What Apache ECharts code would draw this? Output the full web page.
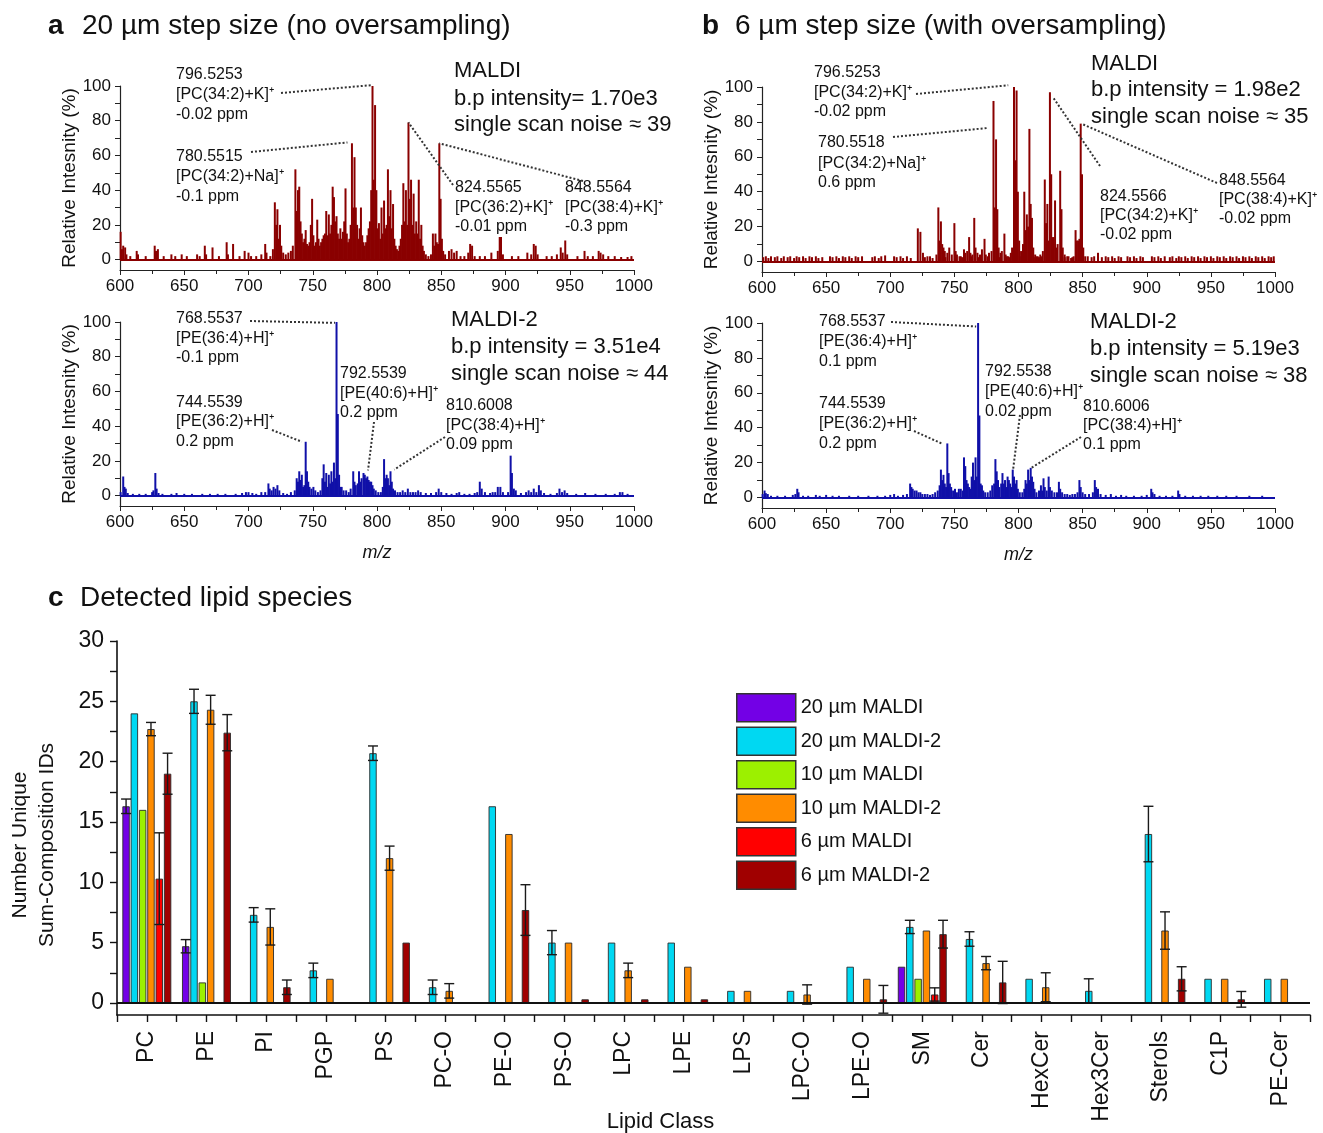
<!DOCTYPE html>
<html>
<head>
<meta charset="utf-8">
<title>MALDI vs MALDI-2 lipid coverage</title>
<script src="https://cdn.jsdelivr.net/npm/echarts@6/dist/echarts.min.js"></script>
<style>
html,body{margin:0;padding:0;background:#fff;}
#main{width:1323px;height:1133px;}
</style>
</head>
<body>
<div id="main"></div>
<script>
var FONT = "'Liberation Sans', Arial, sans-serif";

// ---- spectra: [m/z, relative intensity %] ----
var peaksA1 = [[600.5,16],[601.5,6],[602.5,8],[604,7],[605,3],[608,2],[613,5],[614,3],[620,2],[627,8],[628,5],[629.5,6],[634,2],[640,3],[643,2],[648,3],[652,2],[660,3],[662,2],[666,8],[667,3],[672,7],[677,2],[683,10],[684,3],[688,9],[693,2],[697,5],[700,4],[702,2],[706,2],[710,3],[713,9],[714,4],[717,2],
  [719,6],[720.5,33],[721.5,20],[722.5,29],[723.5,12],[724.5,20],[725.5,8],[727,4],[729,3],[731,4],[733,5],[734.5,8],[736.5,52],[737.5,28],[738.5,40],[739.5,42],[740.5,22],[741.5,15],[742.5,10],[743.5,12],[744.5,17],[745.5,9],[746.5,8],[747.5,10],[748.5,20],[749.5,35],[750.5,14],[751.5,8],[752.5,10],[753.5,23],[754.5,12],[755.5,8],[756.5,10],[757.5,12],[758.5,14],[759.5,15],[760.5,28],[761.5,14],[762.5,26],[763.5,15],[764.5,20],[765.5,42],[766.5,36],[767.5,22],[768.5,25],[769.5,15],[770.5,12],[771.5,18],[772.5,12],[773.5,16],[774.5,22],[775.5,41],[776.5,15],[777.5,10],[778.5,12],[779.5,20],[780.5,67],[781.5,30],[782.5,59],[783.5,30],[784.5,20],[785.5,12],[786.5,18],[787.5,30],[788.5,14],[789.5,10],[790.5,8],[791.5,10],[792.5,14],[793.5,18],[794.5,22],[795.5,40],[796.5,100],[797.5,46],[798.5,89],[799.5,40],[800.5,18],[801.5,21],[802.5,12],[803.5,30],[804.5,15],[805.5,34],[806.5,18],[807.5,20],[808.5,52],[809.5,25],[810.5,40],[811.5,18],[812.5,32],[813.5,12],[814.5,8],[815.5,6],[816.5,5],[817.5,8],[818.5,12],[819.5,20],[820.5,44],[821.5,22],[822.5,40],[823.5,20],[824.5,79],[825.5,35],[826.5,46],[827.5,20],[828.5,38],[829.5,15],[830.5,22],[831.5,15],[832.5,46],[833.5,12],[834.5,20],[835.5,8],[836.5,5],[838,3],[840,2],[842,3],[843.5,15],[844.5,8],[845.5,15],[846.5,10],[847.5,9],[848.5,67],[849.5,35],[850.5,12],[851.5,5],[853,3],[856,5],[858,6],[860,4],[862,5],[865,2],[868,2],[871,4],[872.5,9],[874,8],[876,2],[880,2],[884,2],[889,4],[894,5],[895.5,13],[896.5,13],[898,3],[905,2],[910,2],[917,4],[920,3],[922,9],[923.5,8],[925,3],[932,2],[936,2],[940,3],[943,7],[944.5,4],[946.5,11],[948,3],[956,2],[961.5,5],[964,2],[968,2],[972.5,5],[974,4],[976,3],[980,2],[985,2],[990,1.5],[995,1.5],[998,2]];

var peaksA2 = [[600.5,2],[602.5,11],[603.5,5],[604.5,4],[606,1.5],[610,1],[615,1],[620,1],[625,2],[626,3],[627.5,13],[628.5,4],[630,1.5],[633,1],[640,1],[644,1.5],[650,1],[656,1],[664,1],[670,1],[676,1],[682,1],[690,1],[695,1.5],[698,2],[700,2],[703,1.5],[706,1],[710,2],[713,2],[715.5,7],[716.5,4],[718,3],[719.5,5],[721,4],[722.5,6],[724,3],[727,1.5],[730,1],[733,2],[736,3],[737.5,10],[738.5,8],[739.5,14],[740.5,9],[741.5,12],[742.5,5],[743.5,6],[744.5,31],[745.5,14],[746.5,8],[747.5,5],[749,4],[750.5,5],[752,3],[754,2],[756,3],[757.5,10],[758.5,18],[759.5,8],[760.5,13],[761.5,5],[762.5,12],[763.5,7],[764.5,14],[765.5,8],[766.5,19],[767.5,10],[768.5,100],[769.5,47],[770.5,12],[771.5,5],[772.5,5],[774,3],[776,3],[778,2],[779.5,4],[781.5,14],[782.5,8],[783.5,6],[785,7],[786,14],[787,8],[788,10],[789.5,13],[790.5,12],[791.5,10],[792.5,11],[793.5,9],[794.5,8],[795.5,8],[796.5,6],[797.5,4],[799,3],[801,2],[803,2],[804.5,5],[805.5,21],[806.5,10],[807.5,12],[808.5,10],[809.5,6],[810.5,14],[811.5,8],[812.5,4],[814,3],[816,2],[818,2],[820,3],[822,2],[824,4],[826,2],[828,2],[830,2],[832,3],[834,2],[838,1.5],[842,1.5],[846,2],[848,4],[850,2],[854,1.5],[858,1],[862,1.5],[864,2],[868,1],[872,1],[876,1.5],[878,2],[880,8],[881.5,4],[884,2],[888,1.5],[890,2],[892,2],[894,5],[896,5],[898,2],[902,2],[904,23],[905,13],[906.5,4],[908,3],[912,1.5],[916,2],[918,3],[920,2],[922,4],[924,2],[926,6],[927.5,3],[930,1.5],[935,1],[940,1.5],[942,4],[944,2],[946,3],[948,1.5],[955,1],[962,1.5],[970,1],[978,1],[985,1],[989,2],[991,2],[995,1]];

var peaksB1 = [[716,2],[721.5,19],[723.5,17],[725.5,5],[729,3],[733,2],[736,4],[737.5,31],[738.5,12],[739.5,23],[740.5,10],[741.5,8],[742.5,6],[744.5,5],[746,8],[748,4],[750,22],[751,6],[752,4],[755,3],[757.5,7],[758.5,5],[760,6],[761.5,14],[762.5,5],[764,4],[765.5,25],[766.5,8],[768,5],[770,4],[771.5,7],[773.5,13],[774.5,4],[777,5],[779,6],[780.5,92],[781.5,31],[782.5,70],[783.5,30],[784.5,8],[786,5],[787,6],[789,16],[790,4],[792,3],[794,5],[795,8],[796.5,100],[797.5,58],[798.5,98],[799.5,40],[800.5,12],[802,6],[803.5,10],[804.5,40],[805.5,18],[806.5,27],[807.5,20],[808.5,76],[809.5,33],[810.5,25],[811.5,8],[813,4],[815,3],[817,4],[819,6],[820.5,47],[821.5,22],[822.5,33],[823.5,12],[824.5,97],[825.5,50],[826.5,14],[827.5,14],[828.5,35],[829.5,8],[830.5,10],[832.5,52],[833.5,30],[834.5,8],[836,4],[838,3],[841,2],[843,3],[844.5,18],[845.5,12],[846.5,12],[847.5,13],[848.5,79],[849.5,50],[850.5,8],[852,3],[862,5]];

var noiseB1 = [[601,2.5],[603,3],[605,2],[607,3],[610,2.5],[612,3],[615,2],[617,3],[620,2.5],[622,3],[625,2],[627,3],[629,2.5],[632,3],[634,2],[637,3],[639,2.5],[642,3],[644,2],[647,2.5],[653,3],[655,2.5],[658,3],[660,2],[663,3],[665,2.5],[668,3],[670,2],[673,3],[675,2.5],[678,3],[686,2.5],[688,3],[691,2],[693,3],[696,3.5],[703,3],[705,2.5],[708,3],[710,2],[713,3],[727,2.5],[731,3],[743,2.5],[754,3],[756,2.5],[763,3],[769,2.5],[776,3],[785,2.5],[791,3],[793,2.5],[801,3],[812,2.5],[814,3],[816,2.5],[818,3],[836,2.5],[839,3],[842,2.5],[854,3],[857,2.5],[859,3],[865,2.5],[868,3],[870,2.5],[873,3],[875,2],[878,3],[880,2.5],[885,3],[887,2.5],[890,3],[892,2],[895,3],[897,2.5],[904,3],[906,2.5],[909,3],[911,2],[914,3],[918,2.5],[920,3],[923,2],[925,3],[927,2.5],[930,3],[932,2],[935,3],[937,2.5],[940,3],[942,2],[945,3],[947,2.5],[950,3],[952,2],[955,3],[957,2.5],[960,3],[962,2],[965,3],[967,2.5],[970,3],[972,2],[975,3],[977,2.5],[980,3],[982,2],[985,3],[987,2.5],[990,3],[992,2],[995,3],[997,2.5],[999,3]];

var peaksB2 = [[600.5,2],[602,4],[603,2.5],[604.5,2],[607,1],[612,1],[618,1],[624,1.5],[626,2],[627.5,5],[628.5,3],[632,1],[636,1],[642,1.5],[645,1],[650,1.5],[655,1],[660,1],[668,1],[675,1],[683,1],[690,1],[696,1],[700,1.5],[703,2],[706,1],[710,1.5],[713,2],[715.5,8],[716.5,6],[717.5,5],[719,4],[720.5,4],[722,3],[723.5,3],[725,2],[727,2],[729,2],[731,1.5],[733,2],[735,3],[737,4],[738.5,7],[739.5,16],[740.5,10],[741.5,13],[742.5,8],[743.5,6],[744.5,31],[745.5,14],[746.5,8],[747.5,6],[749,4],[750.5,5],[752,3],[753.5,5],[755,5],[756.5,4],[757.5,23],[758.5,18],[759.5,10],[760.5,8],[761.5,6],[762.5,5],[763.5,12],[764.5,20],[765.5,10],[766.5,23],[767.5,12],[768.5,100],[769.5,47],[770.5,8],[771.5,7],[772.5,4],[774,3],[776,3],[778,4],[779.5,7],[781,8],[782,22],[783,15],[784,10],[785,6],[786.5,8],[787.5,14],[788.5,8],[789.5,10],[790.5,6],[791.5,12],[792.5,10],[793.5,8],[794.5,6],[795.5,16],[796.5,12],[797.5,8],[798.5,10],[799.5,5],[801,3],[803,3],[804.5,5],[805.5,10],[806.5,8],[807.5,16],[808.5,10],[809.5,17],[810.5,12],[811.5,9],[812.5,5],[814,3],[816,4],[817.5,7],[818.5,4],[819.5,11],[820.5,6],[822,4],[823.5,12],[824.5,6],[826,4],[828,3],[830,3],[831.5,9],[832.5,5],[834,3],[836,2],[838,2],[840,1.5],[842,2],[844,2],[846,3],[847.5,10],[848.5,6],[850,3],[852,2],[855,2],[858,3],[859.5,10],[860.5,6],[862,5],[864,2],[868,1.5],[872,2],[876,1],[880,1.5],[884,1],[890,1],[896,1],[900,1.5],[903.5,5],[904.5,3],[906,2],[910,1],[915,1],[920,1],[924.5,4],[925.5,2],[930,1],[936,1],[942,1],[948,1],[955,1],[962,1],[970,1],[980,1],[990,1]];

var intensityLabels = [0,20,40,60,80,100];
var intensityTicks = [0,10,20,30,40,50,60,70,80,90,100];

// ---- lipid classes (c) ----
var lipidClasses = ['PC','PE','PI','PGP','PS','PC-O','PE-O','PS-O','LPC','LPE','LPS','LPC-O','LPE-O','SM','Cer','HexCer','Hex3Cer','Sterols','C1P','PE-Cer'];
var groupNames = ['20 µm MALDI','20 µm MALDI-2','10 µm MALDI','10 µm MALDI-2','6 µm MALDI','6 µm MALDI-2'];
var groupColors = ['#7300e6','#00d8f2','#9cf000','#ff8c00','#ff0000','#a00000'];

var maldi20      = [16.3,4.7,null,null,null,null,null,null,null,null,null,null,null,3.0,null,null,null,null,null,null];
var maldi20Err   = [0.6,0.55,0,0,0,0,0,0,0,0,0,0,0,0,0,0,0,0,0,0];
var maldi2_20    = [24.0,25.0,7.3,2.7,20.7,1.3,16.3,5.0,5.0,5.0,1.0,1.0,3.0,6.3,5.3,2.0,1.0,14.0,2.0,2.0];
var maldi2_20Err = [0,1.0,0.6,0.6,0.6,0.6,0,1.0,0,0,0,0,0,0.55,0.6,0,1.0,2.3,0,0];
var maldi10      = [16.0,1.7,null,null,null,null,null,null,null,null,null,null,null,2.0,null,null,null,null,null,null];
var maldi10Err   = [0,0,0,0,0,0,0,0,0,0,0,0,0,0,0,0,0,0,0,0];
var maldi2_10    = [22.7,24.3,6.3,2.0,12.0,1.0,14.0,5.0,2.7,3.0,1.0,0.7,2.0,6.0,3.3,1.3,null,6.0,2.0,2.0];
var maldi2_10Err = [0.55,1.2,1.5,0,1.0,0.6,0,0,0.6,0,0,0.8,0,0,0.55,1.2,0,1.55,0,0];
var maldi6       = [10.3,null,null,null,null,null,null,null,null,null,null,null,null,0.7,null,null,null,null,null,null];
var maldi6Err    = [3.8,0,0,0,0,0,0,0,0,0,0,0,0,0.55,0,0,0,0,0,0];
var maldi2_6     = [19.0,22.4,1.3,null,5.0,null,7.7,0.3,0.3,0.3,null,null,0.3,5.7,1.7,null,null,2.0,0.3,null];
var maldi2_6Err  = [1.7,1.5,0.6,0,0,0,2.1,0,0,0,0,0,1.15,1.15,1.75,0,0,1.0,0.65,0];
var countLabels = [0,5,10,15,20,25,30];
var countTicks = [0,2.5,5,7.5,10,12.5,15,17.5,20,22.5,25,27.5,30];

var BAR_W = 7.4, BAR_PITCH = 8.3;

var lipidFigure = {
	chart: null,
	init: function () {
		lipidFigure.chart = echarts.init(document.getElementById('main'));
		lipidFigure.chart.setOption(lipidFigure.buildOption());
		lipidFigure.annotate();
	},

	// one stick per peak
	stickItem: function (params, api) {
		var p0 = api.coord([api.value(0), 0]);
		var p1 = api.coord([api.value(0), api.value(1)]);
		return {
			type: 'line',
			shape: { x1: p0[0], y1: p0[1], x2: p1[0], y2: p1[1] },
			style: { stroke: api.visual('color'), lineWidth: 2 }
		};
	},

	spectrumSeries: function (idx, data, color) {
		return {
			type: 'custom', xAxisIndex: idx, yAxisIndex: idx,
			renderItem: lipidFigure.stickItem,
			itemStyle: { color: color },
			encode: { x: 0, y: 1 },
			data: data,
			silent: true,
			markLine: {
				silent: true, symbol: 'none', label: { show: false },
				lineStyle: { color: color, width: 1.8, type: 'solid' },
				data: [{ yAxis: 0 }]
			}
		};
	},

	spectrumAxes: function (idx, showName) {
		var xa = {
			type: 'value', gridIndex: idx, min: 600, max: 1000, interval: 50,
			axisLine: { show: true, onZero: false, lineStyle: { color: '#222', width: 1.2 } },
			axisTick: { show: true, length: 5, lineStyle: { color: '#222' } },
			minorTick: { show: true, splitNumber: 2, length: 4, lineStyle: { color: '#222' } },
			axisLabel: { fontSize: 17, color: '#111', fontFamily: FONT, margin: 8,
				formatter: function (v) { return String(v); } },
			splitLine: { show: false }
		};
		if (showName) {
			xa.name = 'm/z';
			xa.nameLocation = 'middle';
			xa.nameGap = 38;
			xa.nameMoveOverlap = false;
			xa.nameTextStyle = { fontSize: 18, fontStyle: 'italic', color: '#111', fontFamily: FONT };
		}
		var ya = {
			type: 'value', gridIndex: idx, min: -6, max: 100,
			name: 'Relative Intesnity (%)', nameLocation: 'middle', nameGap: 41, nameMoveOverlap: false,
			nameTextStyle: { fontSize: 19, color: '#111', fontFamily: FONT },
			axisLine: { show: true, lineStyle: { color: '#222', width: 1.2 } },
			axisTick: { show: true, length: 5, customValues: intensityTicks, lineStyle: { color: '#222' } },
			axisLabel: { fontSize: 17, color: '#111', fontFamily: FONT, margin: 9, customValues: intensityLabels },
			splitLine: { show: false }
		};
		return { x: xa, y: ya };
	},

	errorItem: function (k) {
		return function (params, api) {
			var i = api.value(0), v = api.value(1), e = api.value(2);
			var top = api.coord([i, v + e]);
			var bot = api.coord([i, v - e]);
			var x = top[0] + (k - 2.5) * BAR_PITCH;
			var st = { stroke: '#1a1a1a', lineWidth: 1.4 };
			return {
				type: 'group',
				children: [
					{ type: 'line', shape: { x1: x, y1: top[1], x2: x, y2: bot[1] }, style: st },
					{ type: 'line', shape: { x1: x - 5, y1: top[1], x2: x + 5, y2: top[1] }, style: st },
					{ type: 'line', shape: { x1: x - 5, y1: bot[1], x2: x + 5, y2: bot[1] }, style: st }
				]
			};
		};
	},

	buildOption: function () {
		var grids = [
			{ left: 120, top: 86, width: 514, height: 184, outerBoundsMode: 'none' },
			{ left: 120, top: 322, width: 514, height: 184, outerBoundsMode: 'none' },
			{ left: 762, top: 87, width: 513, height: 185, outerBoundsMode: 'none' },
			{ left: 762, top: 323, width: 513, height: 185, outerBoundsMode: 'none' },
			{ left: 117, top: 641, width: 1193, height: 374, outerBoundsMode: 'none' }
		];
		var xAxes = [], yAxes = [];
		for (var g = 0; g < 4; g++) {
			var ax = lipidFigure.spectrumAxes(g, g === 1 || g === 3);
			xAxes.push(ax.x);
			yAxes.push(ax.y);
		}
		// lipid class axis: ticks at borders, second copy gives ticks at centres
		xAxes.push({
			type: 'category', gridIndex: 4, data: lipidClasses, position: 'bottom',
			name: 'Lipid Class', nameLocation: 'middle', nameGap: 96, nameMoveOverlap: false,
			nameTextStyle: { fontSize: 22, color: '#111', fontFamily: FONT, padding: [0, 106, 0, 0] },
			axisLine: { show: true, onZero: false, lineStyle: { color: '#111', width: 1.6 } },
			axisTick: { show: true, interval: 0, length: 7, lineStyle: { color: '#111', width: 1.4 } },
			axisLabel: { interval: 0, rotate: 90, fontSize: 23, color: '#111', fontFamily: FONT, margin: 16 },
			splitLine: { show: false }
		});
		xAxes.push({
			type: 'category', gridIndex: 4, data: lipidClasses, position: 'bottom',
			axisLine: { show: false, onZero: false },
			axisTick: { show: true, interval: 0, alignWithLabel: true, length: 7, lineStyle: { color: '#111', width: 1.4 } },
			axisLabel: { show: false },
			splitLine: { show: false }
		});
		yAxes.push({
			type: 'value', gridIndex: 4, min: -1, max: 30,
			name: 'Number Unique\nSum-Composition IDs', nameLocation: 'middle', nameGap: 56, nameMoveOverlap: false,
			nameTextStyle: { fontSize: 21, lineHeight: 27, color: '#111', fontFamily: FONT, padding: [0, 34, 0, 0] },
			axisLine: { show: true, lineStyle: { color: '#111', width: 1.6 } },
			axisTick: { show: true, length: 7, customValues: countTicks, lineStyle: { color: '#111', width: 1.4 } },
			axisLabel: { fontSize: 23, color: '#111', fontFamily: FONT, margin: 13, customValues: countLabels },
			splitLine: { show: false }
		});

		var series = [
			lipidFigure.spectrumSeries(0, peaksA1, '#8a0000'),
			lipidFigure.spectrumSeries(1, peaksA2, '#1010a8'),
			lipidFigure.spectrumSeries(2, noiseB1.concat(peaksB1), '#8a0000'),
			lipidFigure.spectrumSeries(3, peaksB2, '#1010a8')
		];

		var values = [maldi20, maldi2_20, maldi10, maldi2_10, maldi6, maldi2_6];
		var errors = [maldi20Err, maldi2_20Err, maldi10Err, maldi2_10Err, maldi6Err, maldi2_6Err];
		for (var k = 0; k < 6; k++) {
			var bars = [], errs = [];
			for (var i = 0; i < lipidClasses.length; i++) {
				var v = values[k][i];
				bars.push(v === null ? '-' : v);
				if (v !== null && errors[k][i] > 0) errs.push([i, v, errors[k][i]]);
			}
			var bs = {
				type: 'bar', name: groupNames[k], xAxisIndex: 4, yAxisIndex: 4,
				data: bars, barWidth: BAR_W, barGap: ((BAR_PITCH - BAR_W) / BAR_W * 100).toFixed(1) + '%',
				itemStyle: { color: groupColors[k], borderColor: '#2a2a2a', borderWidth: 0.9 },
				silent: true, z: 2
			};
			if (k === 0) {
				bs.markLine = {
					silent: true, symbol: 'none', label: { show: false },
					lineStyle: { color: '#111', width: 2, type: 'solid' },
					data: [{ yAxis: 0 }]
				};
			}
			series.push(bs);
			series.push({
				type: 'custom', xAxisIndex: 4, yAxisIndex: 4, z: 4, silent: true,
				renderItem: lipidFigure.errorItem(k),
				encode: { x: 0, y: 1 },
				data: errs
			});
		}

		return {
			animation: false,
			backgroundColor: '#fff',
			textStyle: { fontFamily: FONT },
			grid: grids,
			xAxis: xAxes,
			yAxis: yAxes,
			legend: {
				data: groupNames, orient: 'vertical', left: 736, top: 693, padding: 0,
				itemWidth: 59, itemHeight: 28, itemGap: 4, icon: 'rect',
				itemStyle: { borderColor: '#333', borderWidth: 1.5 },
				textStyle: { fontSize: 20, color: '#111', fontFamily: FONT },
				selectedMode: false
			},
			series: series
		};
	},

	// text blocks and dotted leader lines
	annotate: function () {
		var notes = [
			{ g: 0, x: 176, ys: [75, 95, 115], lines: ['796.5253', '[PC(34:2)+K]⁺', '-0.02 ppm'], from: [281, 93], to: [796, 100.5] },
			{ g: 0, x: 176, ys: [157, 177, 197], lines: ['780.5515', '[PC(34:2)+Na]⁺', '-0.1 ppm'], from: [251, 152], to: [777, 67.5] },
			{ g: 0, x: 455, ys: [188, 208, 227], lines: ['824.5565', '[PC(36:2)+K]⁺', '-0.01 ppm'], from: [453, 185], to: [824.5, 79] },
			{ g: 0, x: 565, ys: [188, 208, 227], lines: ['848.5564', '[PC(38:4)+K]⁺', '-0.3 ppm'], from: [583, 181], to: [848.5, 67] },
			{ g: 1, x: 176, ys: [319, 339, 358], lines: ['768.5537', '[PE(36:4)+H]⁺', '-0.1 ppm'], from: [250, 321], to: [767.3, 99.5] },
			{ g: 1, x: 176, ys: [403, 422, 442], lines: ['744.5539', '[PE(36:2)+H]⁺', '0.2 ppm'], from: [272, 430], to: [741.5, 31] },
			{ g: 1, x: 340, ys: [374, 394, 413], lines: ['792.5539', '[PE(40:6)+H]⁺', '0.2 ppm'], from: [374, 422], to: [793, 14.5] },
			{ g: 1, x: 446, ys: [406, 426, 445], lines: ['810.6008', '[PC(38:4)+H]⁺', '0.09 ppm'], from: [445, 437], to: [813.5, 15] },
			{ g: 2, x: 814, ys: [73, 93, 112], lines: ['796.5253', '[PC(34:2)+K]⁺', '-0.02 ppm'], from: [916, 94], to: [792, 101] },
			{ g: 2, x: 818, ys: [143, 164, 183], lines: ['780.5518', '[PC(34:2)+Na]⁺', '0.6 ppm'], from: [893, 137], to: [776, 76.5] },
			{ g: 2, x: 1100, ys: [197, 216, 235], lines: ['824.5566', '[PC(34:2)+K]⁺', '-0.02 ppm'], from: [1100, 166], to: [827, 94] },
			{ g: 2, x: 1219, ys: [181, 200, 219], lines: ['848.5564', '[PC(38:4)+K]⁺', '-0.02 ppm'], from: [1217, 183], to: [849, 79] },
			{ g: 3, x: 819, ys: [322, 342, 362], lines: ['768.5537', '[PE(36:4)+H]⁺', '0.1 ppm'], from: [891, 322], to: [767, 98] },
			{ g: 3, x: 819, ys: [404, 424, 444], lines: ['744.5539', '[PE(36:2)+H]⁺', '0.2 ppm'], from: [914, 431], to: [740, 31] },
			{ g: 3, x: 985, ys: [372, 392, 412], lines: ['792.5538', '[PE(40:6)+H]⁺', '0.02 ppm'], from: [1020, 415], to: [795.7, 15.6] },
			{ g: 3, x: 1083, ys: [407, 426, 445], lines: ['810.6006', '[PC(38:4)+H]⁺', '0.1 ppm'], from: [1081, 437], to: [810, 17] }
		];
		var info = [
			{ x: 454, ys: [71, 99, 125], lines: ['MALDI', 'b.p intensity= 1.70e3', 'single scan noise ≈ 39'] },
			{ x: 451, ys: [320, 347, 374], lines: ['MALDI-2', 'b.p intensity = 3.51e4', 'single scan noise ≈ 44'] },
			{ x: 1091, ys: [64, 90, 117], lines: ['MALDI', 'b.p intensity = 1.98e2', 'single scan noise ≈ 35'] },
			{ x: 1090, ys: [322, 349, 376], lines: ['MALDI-2', 'b.p intensity = 5.19e3', 'single scan noise ≈ 38'] }
		];
		var titles = [
			{ x: 48, tx: 82, y: 26, tag: 'a', text: '20 µm step size (no oversampling)' },
			{ x: 702, tx: 735, y: 26, tag: 'b', text: '6 µm step size (with oversampling)' },
			{ x: 48, tx: 80, y: 598, tag: 'c', text: 'Detected lipid species' }
		];

		var els = [];
		var chart = lipidFigure.chart;
		notes.forEach(function (n) {
			n.lines.forEach(function (t, j) {
				els.push({ type: 'text', x: n.x, y: n.ys[j], z: 10, silent: true,
					style: { text: t, fontSize: 16, fill: '#111', fontFamily: FONT, verticalAlign: 'middle' } });
			});
			var end = chart.convertToPixel({ gridIndex: n.g }, n.to);
			els.push({ type: 'line', z: 9, silent: true,
				shape: { x1: n.from[0], y1: n.from[1], x2: end[0], y2: end[1] },
				style: { stroke: '#333', lineWidth: 2, lineDash: [2, 2] } });
		});
		info.forEach(function (n) {
			n.lines.forEach(function (t, j) {
				els.push({ type: 'text', x: n.x, y: n.ys[j], z: 10, silent: true,
					style: { text: t, fontSize: 22, fill: '#111', fontFamily: FONT, verticalAlign: 'middle' } });
			});
		});
		titles.forEach(function (t) {
			els.push({ type: 'text', x: t.x, y: t.y, silent: true,
				style: { text: t.tag, fontSize: 28, fontWeight: 'bold', fill: '#111', fontFamily: FONT, verticalAlign: 'middle' } });
			els.push({ type: 'text', x: t.tx, y: t.y, silent: true,
				style: { text: t.text, fontSize: 28, fill: '#111', fontFamily: FONT, verticalAlign: 'middle' } });
		});
		chart.setOption({ graphic: els });
	}
};

lipidFigure.init();
</script>
</body>
</html>
